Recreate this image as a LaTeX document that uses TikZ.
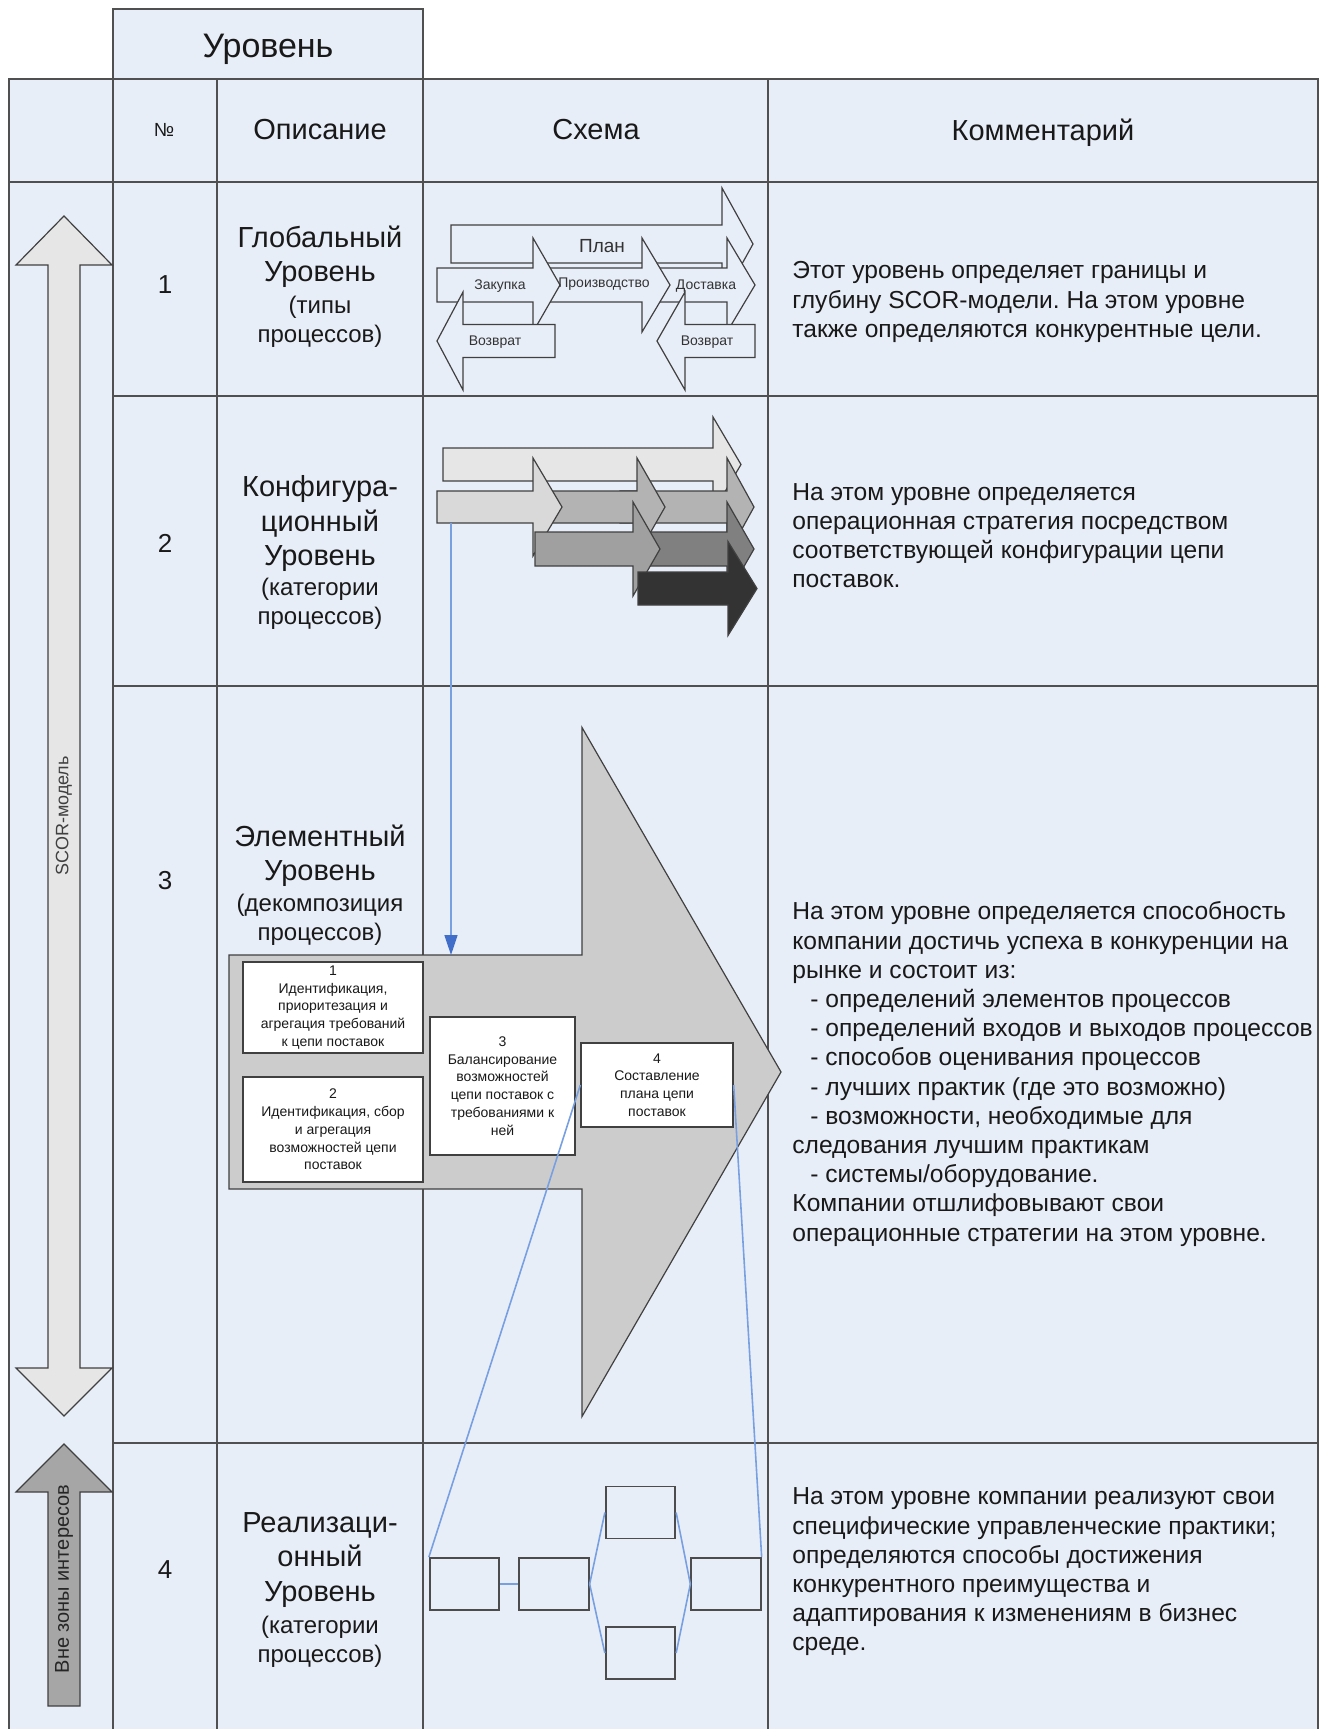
\documentclass[tikz,border=0pt]{standalone}
\usepackage{fontspec}
\setmainfont{Liberation Sans}
\usetikzlibrary{arrows.meta}
\frenchspacing

\definecolor{cellbg}{RGB}{232,238,248}
\definecolor{gridc}{RGB}{80,80,80}
\definecolor{inkc}{RGB}{25,25,25}
\definecolor{linkc}{RGB}{120,160,225}
\definecolor{linkdark}{RGB}{65,110,200}
\definecolor{gA}{RGB}{230,230,230}
\definecolor{gB}{RGB}{217,217,217}
\definecolor{gC}{RGB}{179,179,179}
\definecolor{gD}{RGB}{160,160,160}
\definecolor{gE}{RGB}{128,128,128}
\definecolor{gF}{RGB}{51,51,51}
\definecolor{gBig}{RGB}{204,204,204}
\definecolor{gOut}{RGB}{166,166,166}

% block arrow: style, shaft start x, head base x, tip x, centre y, shaft half height, head half height
\newcommand\BlockArrow[7]{%
  \path[#1] (#2,{#5-#6}) -- (#3,{#5-#6}) -- (#3,{#5-#7}) -- (#4,#5)
    -- (#3,{#5+#7}) -- (#3,{#5+#6}) -- (#2,{#5+#6}) -- cycle;}

\begin{document}
\begin{tikzpicture}[x=0.5pt,y=-0.5pt,
  grid/.style={draw=gridc,line width=1pt},
  outl/.style={draw=black!75,line width=0.6pt},
  hdr/.style={text=inkc,inner sep=0pt,font=\fontsize{14.5}{17}\selectfont},
  numtxt/.style={text=inkc,inner sep=0pt,font=\fontsize{13}{15}\selectfont},
  descbig/.style={text=inkc,inner sep=0pt,align=center,font=\fontsize{14.5}{17.2}\selectfont},
  descsmall/.style={text=inkc,inner sep=0pt,align=center,font=\fontsize{12}{14.3}\selectfont},
  comment/.style={text=inkc,inner sep=0pt,anchor=west,align=left,font=\fontsize{12.3}{14.6}\selectfont},
  tinylbl/.style={text=black!80,inner sep=0pt,font=\fontsize{7}{8}\selectfont},
  wbox/.style={draw=black!75,line width=0.7pt,fill=white,inner sep=0pt,align=center,
    text=inkc,font=\fontsize{7}{8.9}\selectfont},
  ebox/.style={draw=black!70,line width=0.9pt,inner sep=0pt,minimum width=34.75pt,minimum height=26pt},
  link/.style={draw=linkc,line width=0.8pt},
  sidelbl/.style={text=black!75,inner sep=0pt,rotate=90}]

\useasboundingbox (0,0) rectangle (1327,1729);
\fill[white] (0,0) rectangle (1327,1729);

% table background
\fill[cellbg] (113,9) rectangle (423,79);
\fill[cellbg] (9,79) rectangle (1318,1729);

% table grid
\draw[grid] (113,1729) -- (113,9) -- (423,9) -- (423,1729);
\draw[grid] (9,1729) -- (9,79) -- (1318,79) -- (1318,1729);
\draw[grid] (217,79) -- (217,1729);
\draw[grid] (768,79) -- (768,1729);
\draw[grid] (9,182) -- (1318,182);
\draw[grid] (113,396) -- (1318,396);
\draw[grid] (113,686) -- (1318,686);
\draw[grid] (113,1443) -- (1318,1443);

% header
\node[text=inkc,inner sep=0pt,font=\fontsize{17}{20}\selectfont] (level) at (268,49) {Уровень};
\node[text=inkc,inner sep=0pt,font=\fontsize{9.5}{11}\selectfont] (hnum) at (164,130) {№};
\node[hdr] (hdesc) at (320,130) {Описание};
\node[hdr] (hscheme) at (596,130) {Схема};
\node[hdr] (hcomment) at (1043,132.5) {Комментарий};

% left column: scope arrows
\path[fill=gA,outl] (64,216) -- (112,265) -- (80,265) -- (80,1368) -- (112,1368) -- (64,1416)
  -- (16,1368) -- (48,1368) -- (48,265) -- (16,265) -- cycle;
\node[sidelbl,font=\fontsize{9}{10}\selectfont] (scor) at (64,816) {SCOR-модель};
\path[fill=gOut,outl] (64,1444) -- (112,1492) -- (80,1492) -- (80,1706) -- (48,1706)
  -- (48,1492) -- (16,1492) -- cycle;
\node[sidelbl,font=\fontsize{10}{11}\selectfont,text=black!85] (outzone) at (64,1579) {Вне зоны интересов};

% numbers
\node[numtxt] (n1) at (165,285) {1};
\node[numtxt] (n2) at (165,543) {2};
\node[numtxt] (n3) at (165,881) {3};
\node[numtxt] (n4) at (165,1570) {4};

% descriptions
\node[descbig] (d1a) at (320,256.5) {Глобальный\\Уровень};
\node[descsmall] (d1b) at (320,321.5) {(типы\\процессов)};
\node[descbig] (d2a) at (320,523.5) {Конфигура-\\ционный\\Уровень};
\node[descsmall] (d2b) at (320,603.5) {(категории\\процессов)};
\node[descbig] (d3a) at (320,855.5) {Элементный\\Уровень};
\node[descsmall] (d3b) at (320,919.5) {(декомпозиция\\процессов)};
\node[descbig] (d4a) at (320,1560) {Реализаци-\\онный\\Уровень};
\node[descsmall] (d4b) at (320,1642) {(категории\\процессов)};

% level 1 scheme: process types
\BlockArrow{fill=cellbg,outl}{451}{722}{753}{244}{19}{56}
\BlockArrow{fill=cellbg,outl}{650}{727}{755}{285}{17}{47}
\BlockArrow{fill=cellbg,outl}{545}{642}{670}{285}{17}{47}
\BlockArrow{fill=cellbg,outl}{437}{533}{560}{285}{17}{47}
\BlockArrow{fill=cellbg,outl}{755}{685}{657}{341}{16.5}{49}
\BlockArrow{fill=cellbg,outl}{555}{463}{437}{341}{16.5}{49}
\node[text=black!80,inner sep=0pt,font=\fontsize{9.5}{11}\selectfont] (plan) at (602,246) {План};
\node[tinylbl] (source) at (500,286) {Закупка};
\node[tinylbl] (make) at (604,284) {Производство};
\node[tinylbl] (deliver) at (706,286) {Доставка};
\node[tinylbl] (ret1) at (495,342) {Возврат};
\node[tinylbl] (ret2) at (707,342) {Возврат};

% level 2 scheme: process categories
\BlockArrow{fill=gA,outl}{443}{713}{741}{464.5}{16.5}{47.5}
\BlockArrow{fill=gC,outl}{620}{727}{754}{507}{16}{49}
\BlockArrow{fill=gC,outl}{540}{637}{665}{507}{16}{49}
\BlockArrow{fill=gB,outl}{437}{533}{562}{507}{16}{49}
\BlockArrow{fill=gE,outl}{640}{727}{754}{549}{17}{47}
\BlockArrow{fill=gD,outl}{535}{633}{660}{549}{17}{47}
\BlockArrow{fill=gF,outl}{638}{728}{757}{588.5}{16.5}{47}

% level 3 scheme: process elements
\BlockArrow{fill=gBig,outl}{229}{582}{781}{1072}{117}{344.5}
\node[wbox,minimum width=90pt,minimum height=45.5pt] (e1) at (333,1007.5)
  {1\\Идентификация,\\приоритезация и\\агрегация требований\\к цепи поставок};
\node[wbox,minimum width=90pt,minimum height=52.5pt] (e2) at (333,1129.5)
  {2\\Идентификация, сбор\\и агрегация\\возможностей цепи\\поставок};
\node[wbox,minimum width=72.5pt,minimum height=69pt] (e3) at (502.5,1086)
  {3\\Балансирование\\возможностей\\цепи поставок с\\требованиями к\\ней};
\node[wbox,minimum width=76pt,minimum height=42pt] (e4) at (657,1085)
  {4\\Составление\\плана цепи\\поставок};

% link from level 2 to level 3
\coordinate (catfoot) at (451,523);
\coordinate (elemtop) at (451,955);
\draw[link,-{Triangle[length=10pt,width=6.5pt,color=linkdark]}] (catfoot) -- (elemtop);

% level 4 scheme: implementation
\node[ebox] (ia) at (464.5,1584) {};
\node[ebox] (ib) at (554,1584) {};
\node[ebox] (ic) at (640.5,1512.5) {};
\node[ebox] (id) at (640.5,1653) {};
\node[ebox] (ie) at (726,1584) {};
\draw[link] (ia.east) -- (ib.west);
\draw[link] (ib.east) -- (ic.west);
\draw[link] (ib.east) -- (id.west);
\draw[link] (ic.east) -- (ie.west);
\draw[link] (id.east) -- (ie.west);
\draw[link] (e4.west) -- (ia.north west);
\draw[link] (e4.east) -- (ie.north east);

% comments
\node[comment] (c1) at (792,302) {Этот уровень определяет границы и\\глубину SCOR-модели. На этом уровне\\также определяются конкурентные цели.};
\node[comment] (c2) at (792,535.5) {На этом уровне определяется\\операционная стратегия посредством\\соответствующей конфигурации цепи\\поставок.};
\node[comment] (c3) at (792,1074) {На этом уровне определяется способность\\компании достичь успеха в конкуренции на\\рынке и состоит из:\\
  \hspace*{9pt}- определений элементов процессов\\
  \hspace*{9pt}- определений входов и выходов процессов\\
  \hspace*{9pt}- способов оценивания процессов\\
  \hspace*{9pt}- лучших практик (где это возможно)\\
  \hspace*{9pt}- возможности, необходимые для\\
  следования лучшим практикам\\
  \hspace*{9pt}- системы/оборудование.\\
  Компании отшлифовывают свои\\операционные стратегии на этом уровне.};
\node[comment] (c4) at (792,1572) {На этом уровне компании реализуют свои\\специфические управленческие практики;\\определяются способы достижения\\конкурентного преимущества и\\адаптирования к изменениям в бизнес\\среде.};

\end{tikzpicture}
\end{document}
